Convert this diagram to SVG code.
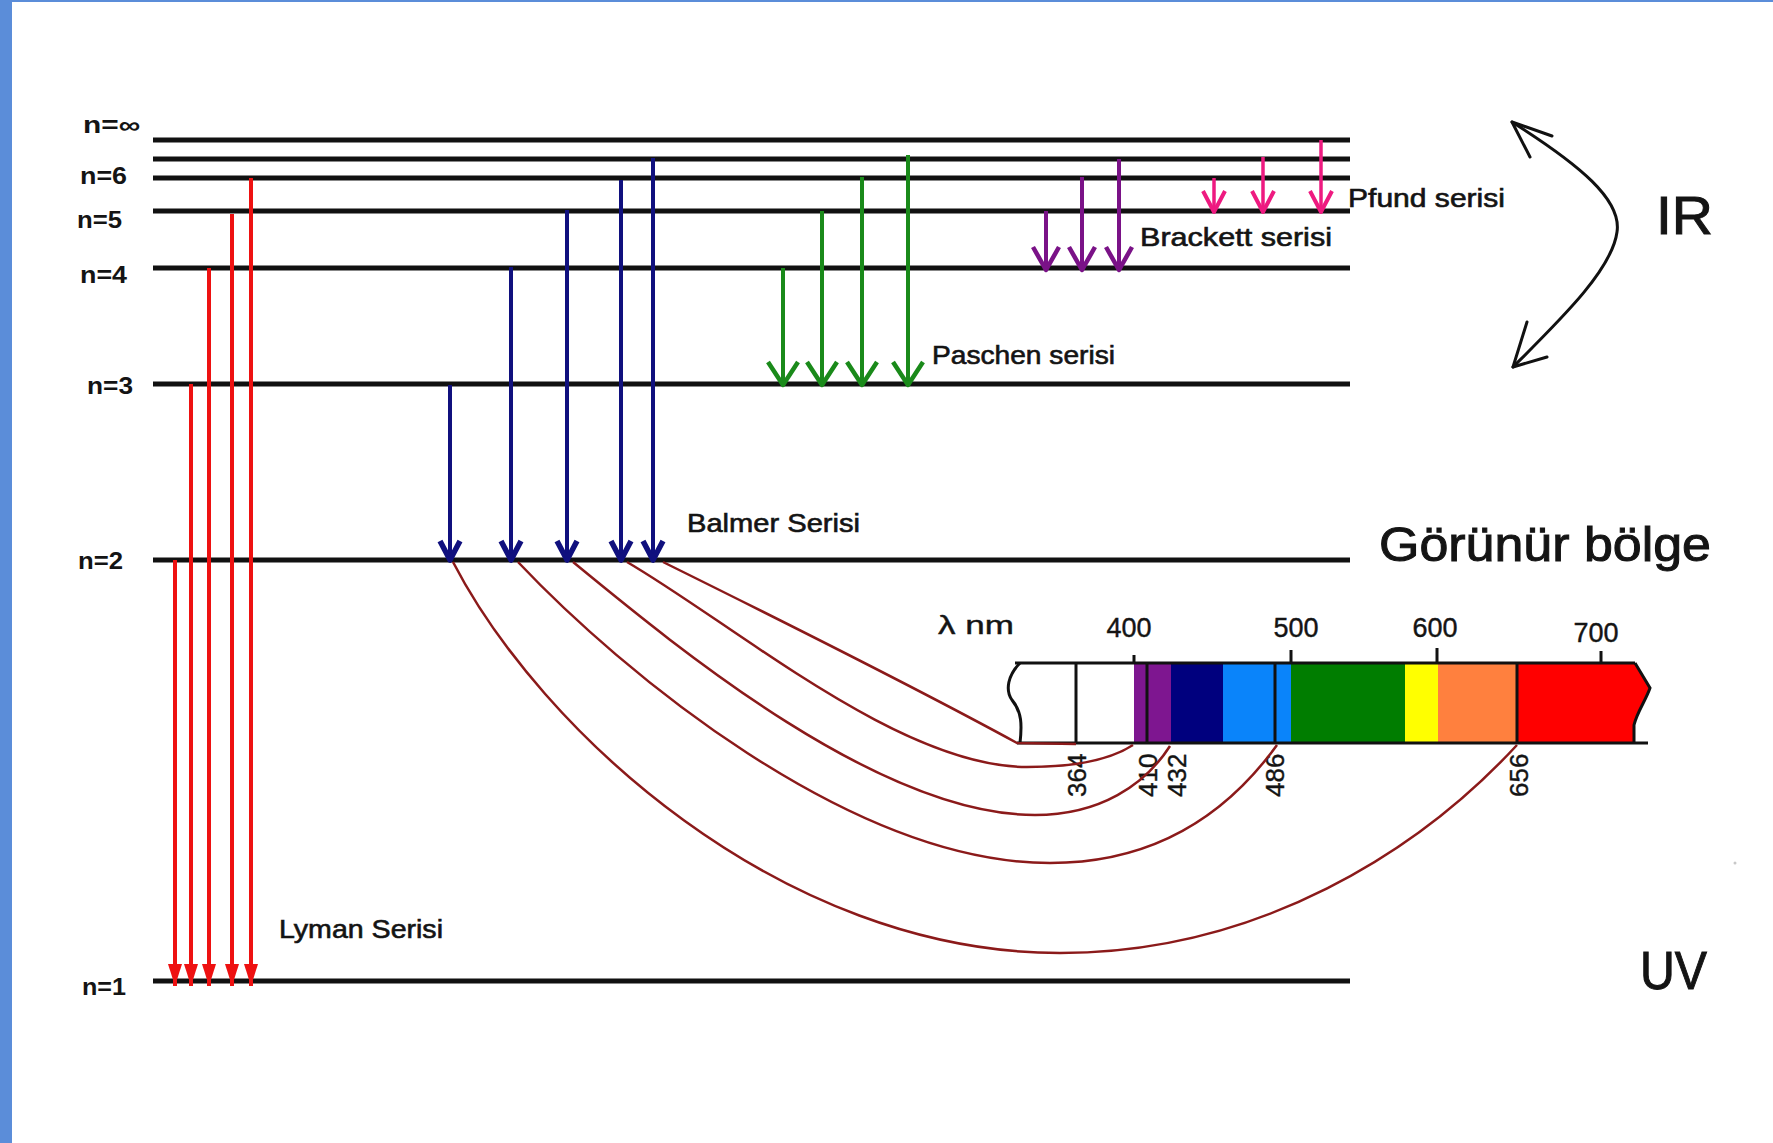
<svg xmlns="http://www.w3.org/2000/svg" width="1773" height="1143" viewBox="0 0 1773 1143">
<defs>
<style>
.lvl{stroke:#111;stroke-width:5;fill:none}
.t{font-family:"Liberation Sans",Arial,sans-serif;fill:#141414}
.nl{font-size:23px;font-weight:bold}
.ser{font-size:25px;stroke:#141414;stroke-width:0.6}
.big{font-size:54px;stroke:#141414;stroke-width:1}
.tk{font-size:27px;stroke:#141414;stroke-width:0.4}
.wl{font-size:26px;stroke:#141414;stroke-width:0.4}
.ly{stroke:#ee1111;stroke-width:4;fill:none;marker-end:url(#mRed)}
.ba{stroke:#10107e;stroke-width:4;fill:none;marker-end:url(#mBlue)}
.pa{stroke:#1a8a1a;stroke-width:4;fill:none;marker-end:url(#mGreen)}
.br{stroke:#7a1287;stroke-width:4;fill:none;marker-end:url(#mPurple)}
.pf{stroke:#ee1a80;stroke-width:3.5;fill:none;marker-end:url(#mPink)}
.cv{stroke:#8b1a1a;stroke-width:2.5;fill:none}
.bd{stroke:#111;stroke-width:3;fill:none}
.ir{stroke:#111;stroke-width:3;fill:none;stroke-linecap:round;stroke-linejoin:round}
</style>
<marker id="mRed" markerUnits="userSpaceOnUse" orient="auto" refX="0" refY="0" markerWidth="30" markerHeight="30" overflow="visible"><path d="M-22,-7 L0,0 L-22,7 Z" fill="#ee1111"/></marker>
<marker id="mBlue" markerUnits="userSpaceOnUse" orient="auto" refX="0" refY="0" markerWidth="30" markerHeight="30" overflow="visible"><path d="M-19,-10 L0,0 L-19,10" fill="none" stroke="#10107e" stroke-width="5.5" stroke-linejoin="round"/></marker>
<marker id="mGreen" markerUnits="userSpaceOnUse" orient="auto" refX="0" refY="0" markerWidth="30" markerHeight="30" overflow="visible"><path d="M-23,-15 L0,0 L-23,15" fill="none" stroke="#1a8a1a" stroke-width="4.5" stroke-linejoin="round"/></marker>
<marker id="mPurple" markerUnits="userSpaceOnUse" orient="auto" refX="0" refY="0" markerWidth="30" markerHeight="30" overflow="visible"><path d="M-23,-13 L0,0 L-23,13" fill="none" stroke="#7a1287" stroke-width="4.5" stroke-linejoin="round"/></marker>
<marker id="mPink" markerUnits="userSpaceOnUse" orient="auto" refX="0" refY="0" markerWidth="30" markerHeight="30" overflow="visible"><path d="M-21,-11 L0,0 L-21,11" fill="none" stroke="#ee1a80" stroke-width="4" stroke-linejoin="round"/></marker>
</defs>

<rect x="0" y="0" width="1773" height="1143" fill="#ffffff"/>
<rect x="0" y="0" width="12" height="1143" fill="#5b8dd9"/>
<rect x="0" y="0" width="1773" height="2" fill="#5b8dd9"/>

<g id="levels">
  <g id="level-inf"><line class="lvl" x1="153" y1="140" x2="1350" y2="140"/><text class="t nl" x="83" y="133" textLength="57" lengthAdjust="spacingAndGlyphs">n=∞</text></g>
  <g id="level-7"><line class="lvl" x1="153" y1="159" x2="1350" y2="159"/></g>
  <g id="level-6"><line class="lvl" x1="153" y1="178" x2="1350" y2="178"/><text class="t nl" x="80" y="184" textLength="47" lengthAdjust="spacingAndGlyphs">n=6</text></g>
  <g id="level-5"><line class="lvl" x1="153" y1="211" x2="1350" y2="211"/><text class="t nl" x="77" y="228" textLength="45" lengthAdjust="spacingAndGlyphs">n=5</text></g>
  <g id="level-4"><line class="lvl" x1="153" y1="268" x2="1350" y2="268"/><text class="t nl" x="80" y="283" textLength="47" lengthAdjust="spacingAndGlyphs">n=4</text></g>
  <g id="level-3"><line class="lvl" x1="153" y1="384" x2="1350" y2="384"/><text class="t nl" x="87" y="394" textLength="46" lengthAdjust="spacingAndGlyphs">n=3</text></g>
  <g id="level-2"><line class="lvl" x1="153" y1="560" x2="1350" y2="560"/><text class="t nl" x="78" y="569" textLength="45" lengthAdjust="spacingAndGlyphs">n=2</text></g>
  <g id="level-1"><line class="lvl" x1="153" y1="981" x2="1350" y2="981"/><text class="t nl" x="82" y="995" textLength="44" lengthAdjust="spacingAndGlyphs">n=1</text></g>
</g>

<g id="spectrum">
  <rect x="1134" y="663" width="37" height="80" fill="#7e1690"/>
  <rect x="1171" y="663" width="52" height="80" fill="#00007e"/>
  <rect x="1223" y="663" width="68" height="80" fill="#0a84fa"/>
  <rect x="1291" y="663" width="114" height="80" fill="#007d00"/>
  <rect x="1405" y="663" width="33" height="80" fill="#ffff00"/>
  <rect x="1438" y="663" width="79" height="80" fill="#ff803e"/>
  <path d="M1517,663 L1635,663 L1650,688 C1646,700 1637,712 1634,725 L1634,743 L1517,743 Z" fill="#ff0000"/>
  <path class="bd" d="M1020,663 C1008,675 1005,690 1012,700 C1022,712 1022,725 1020,743"/>
  <path class="bd" d="M1635,663 L1650,688 C1646,700 1637,712 1634,725 L1634,743"/>
  <line class="bd" x1="1015" y1="663" x2="1635" y2="663"/>
  <line class="bd" x1="1017" y1="743" x2="1648" y2="743"/>
  <line class="bd" x1="1076" y1="663" x2="1076" y2="743"/>
  <line class="bd" x1="1147" y1="663" x2="1147" y2="743"/>
  <line class="bd" x1="1275" y1="663" x2="1275" y2="743"/>
  <line class="bd" x1="1517" y1="663" x2="1517" y2="743"/>
  <line class="bd" x1="1134" y1="655" x2="1134" y2="663"/>
  <line class="bd" x1="1291" y1="650" x2="1291" y2="663"/>
  <line class="bd" x1="1437" y1="648" x2="1437" y2="663"/>
  <line class="bd" x1="1601" y1="651" x2="1601" y2="663"/>
  <text class="t wl" x="938" y="634" textLength="76" lengthAdjust="spacingAndGlyphs">λ nm</text>
  <text class="t tk" x="1129" y="637" text-anchor="middle">400</text>
  <text class="t tk" x="1296" y="637" text-anchor="middle">500</text>
  <text class="t tk" x="1435" y="637" text-anchor="middle">600</text>
  <text class="t tk" x="1596" y="642" text-anchor="middle">700</text>
  <text class="t wl" transform="translate(1086,797) rotate(-90)">364</text>
  <text class="t wl" transform="translate(1157,797) rotate(-90)">410</text>
  <text class="t wl" transform="translate(1186,797) rotate(-90)">432</text>
  <text class="t wl" transform="translate(1284,797) rotate(-90)">486</text>
  <text class="t wl" transform="translate(1528,797) rotate(-90)">656</text>
</g>

<g id="connectors">
  <g id="lyman">
    <line class="ly" x1="175" y1="560" x2="175" y2="986"/>
    <line class="ly" x1="191" y1="384" x2="191" y2="986"/>
    <line class="ly" x1="209" y1="268" x2="209" y2="986"/>
    <line class="ly" x1="232" y1="214" x2="232" y2="986"/>
    <line class="ly" x1="251" y1="178" x2="251" y2="986"/>
  </g>
  <g id="balmer">
    <line class="ba" x1="450" y1="385" x2="450" y2="560"/>
    <line class="ba" x1="511" y1="267" x2="511" y2="560"/>
    <line class="ba" x1="567" y1="210" x2="567" y2="560"/>
    <line class="ba" x1="621" y1="180" x2="621" y2="560"/>
    <line class="ba" x1="653" y1="158" x2="653" y2="560"/>
  </g>
  <g id="paschen">
    <line class="pa" x1="783" y1="268" x2="783" y2="385"/>
    <line class="pa" x1="822" y1="211" x2="822" y2="385"/>
    <line class="pa" x1="862" y1="177" x2="862" y2="385"/>
    <line class="pa" x1="908" y1="155" x2="908" y2="385"/>
  </g>
  <g id="brackett">
    <line class="br" x1="1046" y1="211" x2="1046" y2="270"/>
    <line class="br" x1="1082" y1="177" x2="1082" y2="270"/>
    <line class="br" x1="1119" y1="159" x2="1119" y2="270"/>
  </g>
  <g id="pfund">
    <line class="pf" x1="1214" y1="178" x2="1214" y2="212"/>
    <line class="pf" x1="1263" y1="157" x2="1263" y2="212"/>
    <line class="pf" x1="1321" y1="140" x2="1321" y2="212"/>
  </g>
  <g id="balmer-lines">
    <path class="cv" d="M453,562 C540,730 780,953 1060,953 C1260,953 1420,850 1517,745"/>
    <path class="cv" d="M518,562 C620,670 850,863 1050,863 C1160,863 1230,810 1277,745"/>
    <path class="cv" d="M573,562 C680,650 880,815 1035,815 C1100,815 1145,785 1170,746"/>
    <path class="cv" d="M627,562 C735,625 900,767 1027,767 C1075,767 1110,760 1133,745"/>
    <path class="cv" d="M663,562 C760,610 920,690 1017,743 L1076,744"/>
  </g>
  <g id="ir-arrow">
    <path class="ir" d="M1512,122 C1580,165 1622,200 1617,232 C1612,270 1560,320 1513,367"/>
    <path class="ir" d="M1552,136 L1512,122 L1530,157"/>
    <path class="ir" d="M1527,322 L1513,367 L1547,357"/>
  </g>
</g>

<g id="labels">
  <text class="t ser" x="1348" y="207" textLength="157" lengthAdjust="spacingAndGlyphs">Pfund serisi</text>
  <text class="t ser" x="1140" y="246" textLength="192" lengthAdjust="spacingAndGlyphs">Brackett serisi</text>
  <text class="t ser" x="932" y="364" textLength="183" lengthAdjust="spacingAndGlyphs">Paschen serisi</text>
  <text class="t ser" x="687" y="532" textLength="173" lengthAdjust="spacingAndGlyphs">Balmer Serisi</text>
  <text class="t ser" x="279" y="938" textLength="164" lengthAdjust="spacingAndGlyphs">Lyman Serisi</text>
  <text class="t big" x="1656" y="234" textLength="57" lengthAdjust="spacingAndGlyphs">IR</text>
  <text class="t big" x="1640" y="989" textLength="67" lengthAdjust="spacingAndGlyphs">UV</text>
  <text class="t big" x="1379" y="561" font-size="48" textLength="332" lengthAdjust="spacingAndGlyphs" style="font-size:48px">Görünür bölge</text>
</g>
<circle cx="1735" cy="863" r="1.5" fill="#c8c8c8"/>
</svg>
